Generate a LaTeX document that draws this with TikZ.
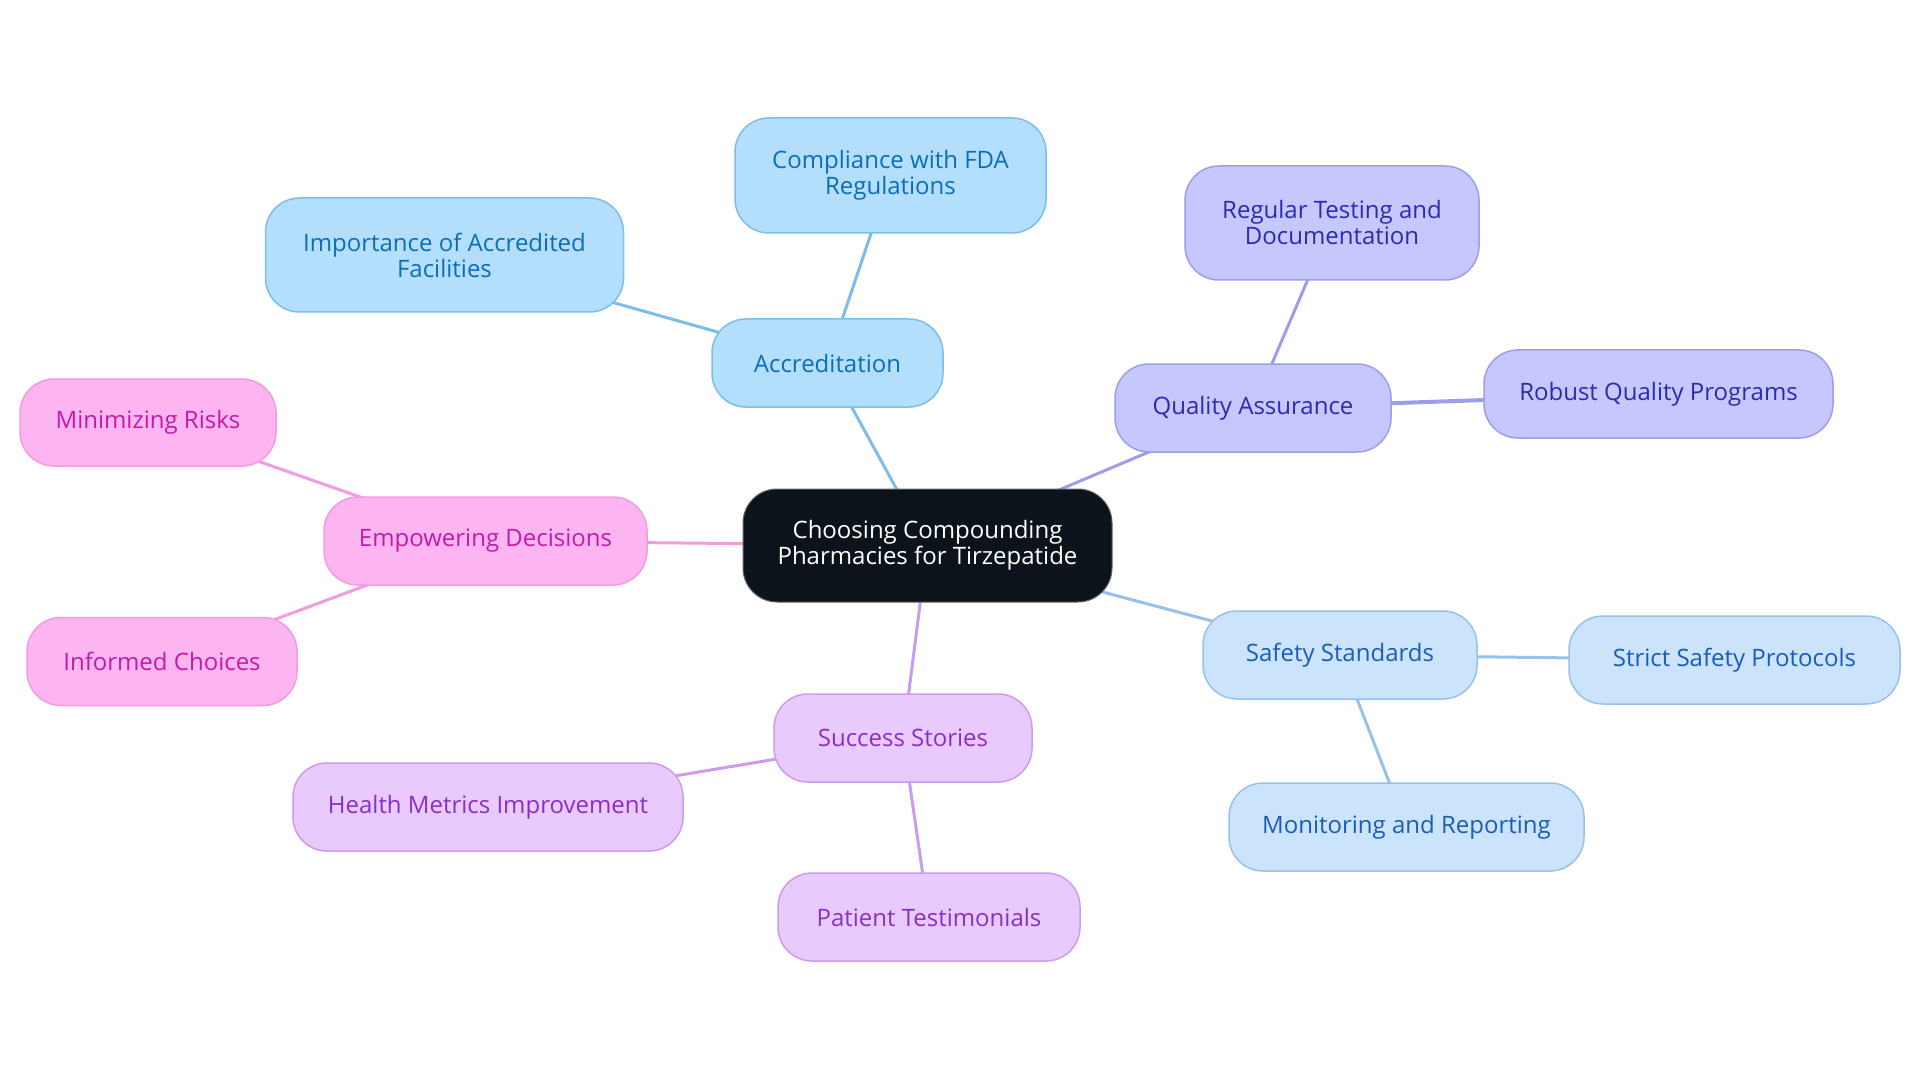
\documentclass[tikz,border=0pt]{standalone}
\usepackage{fontspec}
\setmainfont{Open Sans}
\usetikzlibrary{backgrounds}
\definecolor{bFill}{HTML}{B3DFFD}
\definecolor{bLine}{HTML}{7CBDEB}
\definecolor{bText}{HTML}{0C6DB8}
\definecolor{qFill}{HTML}{C6C8FD}
\definecolor{qLine}{HTML}{9D9DEA}
\definecolor{qText}{HTML}{2D2AB2}
\definecolor{sFill}{HTML}{CCE4FB}
\definecolor{sLine}{HTML}{98C0EC}
\definecolor{sText}{HTML}{1A5CB9}
\definecolor{pFill}{HTML}{FDB5F1}
\definecolor{pLine}{HTML}{F09CDF}
\definecolor{pText}{HTML}{C41AA9}
\definecolor{vFill}{HTML}{E8CBFC}
\definecolor{vLine}{HTML}{CC9CEC}
\definecolor{vText}{HTML}{8C2EC6}
\definecolor{cFill}{HTML}{0D131A}
\tikzset{
  x=1pt, y=-1pt,
  mm/.style={rectangle, rounded corners=34pt, line width=1.5pt, align=center,
    inner sep=0pt, font=\fontsize{24}{26}\selectfont},
  bnode/.style={mm, fill=bFill, draw=bLine, text=bText},
  qnode/.style={mm, fill=qFill, draw=qLine, text=qText},
  snode/.style={mm, fill=sFill, draw=sLine, text=sText},
  pnode/.style={mm, fill=pFill, draw=pLine, text=pText},
  vnode/.style={mm, fill=vFill, draw=vLine, text=vText},
  cnode/.style={mm, fill=cFill, draw=black!60, line width=1pt, text=white},
  sz/.style 2 args={minimum width=#1pt, minimum height=#2pt},
  bedge/.style={draw=bLine, line width=3pt},
  qedge/.style={draw=qLine, line width=3pt},
  sedge/.style={draw=sLine, line width=3pt},
  pedge/.style={draw=pLine, line width=3pt},
  vedge/.style={draw=vLine, line width=3pt},
}
\begin{document}
\begin{tikzpicture}
\useasboundingbox (0,0) rectangle (1920,1083);
\node[cnode, sz={369}{113}] (ctr) at (927.5,545.5) {Choosing Compounding\\Pharmacies for Tirzepatide};
\node[bnode, sz={231}{88}] (acc) at (827.5,363) {Accreditation};
\node[bnode, sz={311}{115}] (comp) at (890.5,175.5) {Compliance with FDA\\Regulations};
\node[bnode, sz={358}{114}] (imp) at (444.5,255) {Importance of Accredited\\Facilities};
\node[qnode, sz={294}{114}] (reg) at (1332,223) {Regular Testing and\\Documentation};
\node[qnode, sz={276}{88}] (qa) at (1253,408) {Quality Assurance};
\node[qnode, sz={349}{88}] (rob) at (1658.5,394) {Robust Quality Programs};
\node[snode, sz={274}{88}] (saf) at (1340,655) {Safety Standards};
\node[snode, sz={331}{88}] (str) at (1734.5,660) {Strict Safety Protocols};
\node[snode, sz={355}{88}] (mon) at (1406.5,827) {Monitoring and Reporting};
\node[pnode, sz={256}{87}] (min) at (148,422.5) {Minimizing Risks};
\node[pnode, sz={323}{88}] (emp) at (485.5,541) {Empowering Decisions};
\node[pnode, sz={270}{88}] (inf) at (162,661.5) {Informed Choices};
\node[vnode, sz={258}{88}] (suc) at (903,738) {Success Stories};
\node[vnode, sz={390}{88}] (hea) at (488,807) {Health Metrics Improvement};
\node[vnode, sz={302}{88}] (pat) at (929,917) {Patient Testimonials};
\begin{scope}[on background layer]
\draw[bedge] (ctr.center) -- (acc.center);
\draw[bedge] (acc.center) -- (comp.center);
\draw[bedge] (acc.center) -- (imp.center);
\draw[qedge] (ctr.center) -- (qa.center);
\draw[qedge] (qa.center) -- (reg.center);
\draw[qedge, line width=4pt] (qa.center) -- (rob.center);
\draw[sedge] (ctr.center) -- (saf.center);
\draw[sedge] (saf.center) -- (str.center);
\draw[sedge] (saf.center) -- (mon.center);
\draw[pedge] (ctr.center) -- (emp.center);
\draw[pedge] (emp.center) -- (min.center);
\draw[pedge] (emp.center) -- (inf.center);
\draw[vedge] (ctr.center) -- (suc.center);
\draw[vedge] (suc.center) -- (hea.center);
\draw[vedge] (suc.center) -- (pat.center);
\end{scope}
\end{tikzpicture}
\end{document}
